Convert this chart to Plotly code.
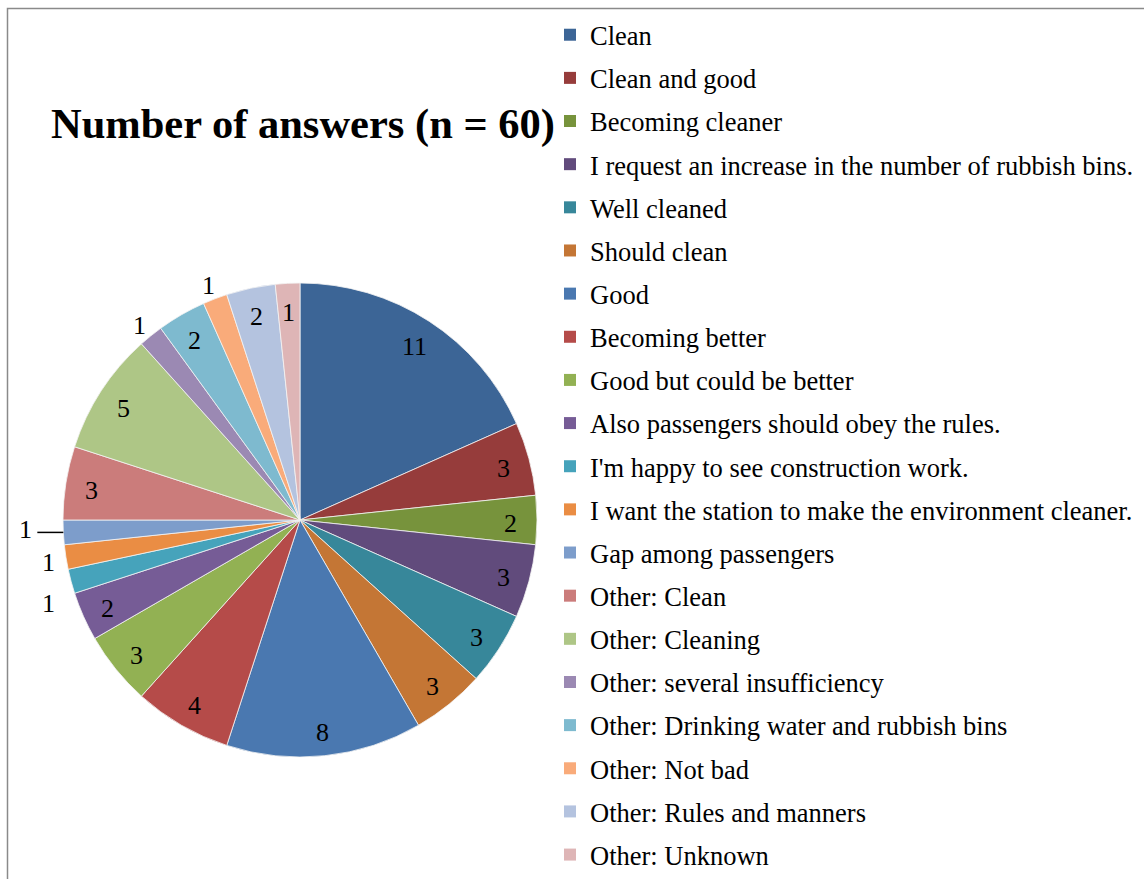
import math
import plotly.graph_objects as go

# Survey answers and counts
categories = [
    "Clean", "Clean and good", "Becoming cleaner",
    "I request an increase in the number of rubbish bins.",
    "Well cleaned", "Should clean", "Good", "Becoming better",
    "Good but could be better", "Also passengers should obey the rules.",
    "I'm happy to see construction work.",
    "I want the station to make the environment cleaner.",
    "Gap among passengers", "Other: Clean", "Other: Cleaning",
    "Other: several insufficiency", "Other: Drinking water and rubbish bins",
    "Other: Not bad", "Other: Rules and manners", "Other: Unknown",
]
counts = [11, 3, 2, 3, 3, 3, 8, 4, 3, 2, 1, 1, 1, 3, 5, 1, 2, 1, 2, 1]
title_text = "Number of answers (n = 60)"

# Slice colours
colors = [
    "#3C6596", "#963C3B", "#77933C", "#614B7C", "#37879A", "#C47635",
    "#4A78B0", "#B54B49", "#92B153", "#765C96", "#46A3BB", "#EA8D44",
    "#7D9DCB", "#CB7C7B", "#AEC686", "#9B89B3", "#7EBACF", "#F9AB7A",
    "#B4C3DF", "#DEB5B6",
]
# Where each value label sits: inside the slice, outside it, or outside with a leader line
label_place = ["in"] * 10 + ["out", "out", "leader", "in", "in", "out", "in", "out", "in", "in"]
# Small pixel nudges for crowded outside labels (index -> dx, dy)
label_nudge = {10: (-5, 15)}

W, H = 1144, 879
CX, CY, R = 300, 520, 237  # pie centre and radius in pixels
TEXT_DROP = 3  # digits sit a little below the text box centre
SERIF = "Liberation Serif, Times New Roman, serif"
LABEL_FONT = dict(family=SERIF, size=26, color="black")


def to_paper(px, py):
    return px / W, 1 - py / H


fig = go.Figure()
fig.add_trace(go.Pie(
    labels=categories,
    values=counts,
    sort=False,
    direction="clockwise",
    rotation=0,
    marker=dict(colors=colors, line=dict(color="#f4f4f4", width=0.8)),
    textinfo="none",
    hoverinfo="label+value",
    showlegend=False,
    domain=dict(x=[(CX - R) / W, (CX + R) / W], y=[1 - (CY + R) / H, 1 - (CY - R) / H]),
))

# Legend entries, one group each so the rows are spaced like the chart's legend
for i, (name, col) in enumerate(zip(categories, colors)):
    fig.add_trace(go.Scatter(
        x=[None], y=[None], mode="markers", name=name,
        marker=dict(symbol="square", size=12, color=col),
        legendgroup=f"g{i}", showlegend=True,
    ))

# Value labels placed along each slice's bisector
total = sum(counts)
annotations = []
shapes = []
cum = 0.0
for i, (v, place) in enumerate(zip(counts, label_place)):
    mid = (cum + v / 2) / total * 2 * math.pi
    cum += v
    s, c = math.sin(mid), math.cos(mid)
    if place == "leader":
        ex, ey = CX + R * s, CY - R * c
        x0, y0 = to_paper(ex - 26, ey)
        x1, y1 = to_paper(ex, ey)
        shapes.append(dict(type="line", xref="paper", yref="paper",
                           x0=x0, y0=y0, x1=x1, y1=y1,
                           line=dict(color="black", width=1.5)))
        tx, ty = to_paper(ex - 38, ey - 6 + TEXT_DROP)
        annotations.append(dict(
            x=tx, y=ty, xref="paper", yref="paper", text=str(v),
            showarrow=False, xanchor="center", yanchor="middle", font=LABEL_FONT,
        ))
        continue
    f = 0.89 if place == "in" else 1.075
    dx, dy = label_nudge.get(i, (0, 0))
    px, py = CX + R * f * s + dx, CY - R * f * c + dy + TEXT_DROP
    tx, ty = to_paper(px, py)
    annotations.append(dict(
        x=tx, y=ty, xref="paper", yref="paper", text=str(v),
        showarrow=False, xanchor="center", yanchor="middle", font=LABEL_FONT,
    ))

annotations.append(dict(
    x=303 / W, y=1 - 124 / H, xref="paper", yref="paper",
    text=f"<b>{title_text}</b>", showarrow=False, xanchor="center", yanchor="middle",
    font=dict(family=SERIF, size=42.5, color="black"),
))

# Chart frame
shapes.append(dict(
    type="rect", xref="paper", yref="paper",
    x0=7.5 / W, x1=1.02, y0=-0.02, y1=1 - 8.5 / H,
    line=dict(color="#8a8a8a", width=1.5), layer="below",
))

fig.update_layout(
    width=W, height=H,
    margin=dict(l=0, r=0, t=0, b=0, autoexpand=False),
    paper_bgcolor="white", plot_bgcolor="white",
    xaxis=dict(visible=False), yaxis=dict(visible=False),
    annotations=annotations,
    legend=dict(
        x=550 / W, y=1 - 11 / H, xanchor="left", yanchor="top",
        font=dict(family=SERIF, size=26.5, color="black"),
        tracegroupgap=5.7, itemclick=False, itemdoubleclick=False,
        bgcolor="rgba(0,0,0,0)",
    ),
    shapes=shapes,
    showlegend=True,
)

fig.write_html("out.html")
